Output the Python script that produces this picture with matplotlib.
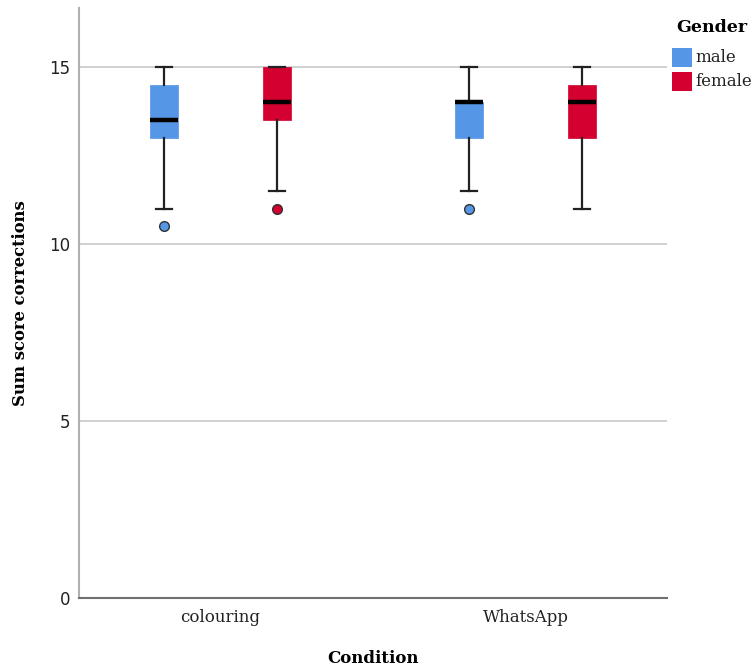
import matplotlib
matplotlib.use("Agg")
import matplotlib.pyplot as plt
from matplotlib.patches import Rectangle

conditions = ["colouring", "WhatsApp"]
genders = ["male", "female"]
colors = {"male": "#5596e6", "female": "#d4002f"}

# five-number summaries per condition and gender
whislo = {"colouring": [11.0, 11.5], "WhatsApp": [11.5, 11.0]}
q1 = {"colouring": [13.0, 13.5], "WhatsApp": [13.0, 13.0]}
med = {"colouring": [13.5, 14.0], "WhatsApp": [14.0, 14.0]}
q3 = {"colouring": [14.5, 15.0], "WhatsApp": [14.0, 14.5]}
whishi = {"colouring": [15.0, 15.0], "WhatsApp": [15.0, 15.0]}
fliers = {"colouring": [[10.5], [11.0]], "WhatsApp": [[11.0], []]}

yticks = [0, 5, 10, 15]

fig = plt.figure(figsize=(7.53, 6.69), dpi=100)
ax = fig.add_axes([79 / 753, 1 - 598 / 669, (667 - 79) / 753, (598 - 8) / 669])

offset = 0.185
width = 0.092
for ci, cond in enumerate(conditions):
    for gi, g in enumerate(genders):
        pos = ci + (-offset if gi == 0 else offset)
        stats = [{
            "whislo": whislo[cond][gi], "q1": q1[cond][gi], "med": med[cond][gi],
            "q3": q3[cond][gi], "whishi": whishi[cond][gi], "fliers": fliers[cond][gi],
        }]
        ax.bxp(stats, positions=[pos], widths=width, patch_artist=True,
               showfliers=True, manage_ticks=False,
               boxprops=dict(facecolor=colors[g], edgecolor=colors[g], linewidth=0.5),
               medianprops=dict(color="black", linewidth=3.2, solid_capstyle="butt"),
               whiskerprops=dict(color="#222222", linewidth=1.6),
               capprops=dict(color="#222222", linewidth=1.6),
               capwidths=0.05,
               flierprops=dict(marker="o", markerfacecolor=colors[g],
                               markeredgecolor="#333333", markersize=7,
                               markeredgewidth=1.0),
               zorder=3)

ax.set_xlim(-0.464, 1.464)
ax.set_ylim(0, 16.67)
ax.set_yticks(yticks)
ax.set_yticklabels([str(t) for t in yticks], fontsize=12, family="DejaVu Sans",
                   color="#222222")
ax.set_xticks(range(len(conditions)))
ax.set_xticklabels(conditions, fontsize=12, family="DejaVu Serif", color="#222222")
ax.tick_params(axis="both", length=0, pad=6)
ax.tick_params(axis="x", pad=8)

ax.yaxis.grid(True, color="#c8c8c8", linewidth=1.2, zorder=0)
ax.set_axisbelow(True)
for s in ["top", "right"]:
    ax.spines[s].set_visible(False)
ax.spines["left"].set_color("#b0b0b0")
ax.spines["left"].set_linewidth(1.5)
ax.spines["bottom"].set_color("#707070")
ax.spines["bottom"].set_linewidth(1.5)

ax.set_ylabel("Sum score corrections", fontsize=11.8, family="DejaVu Serif",
              fontweight="bold", labelpad=15)
ax.set_xlabel("Condition", fontsize=12, family="DejaVu Serif",
              fontweight="bold", labelpad=17)

# legend drawn in figure pixel space
W, H = 753, 669
fig.text(676 / W, 1 - 28 / H, "Gender", fontsize=12.5, family="DejaVu Serif",
         fontweight="bold", va="center", ha="left")
for i, g in enumerate(genders):
    y0 = 48 + i * 24
    fig.add_artist(Rectangle((672 / W, 1 - (y0 + 19) / H), 20 / W, 19 / H,
                             transform=fig.transFigure, facecolor=colors[g],
                             edgecolor="none"))
    fig.text(695 / W, 1 - (y0 + 9.5) / H, g, fontsize=12, family="DejaVu Serif",
             va="center", ha="left", color="#222222")

fig.savefig("out.png", dpi=100)
